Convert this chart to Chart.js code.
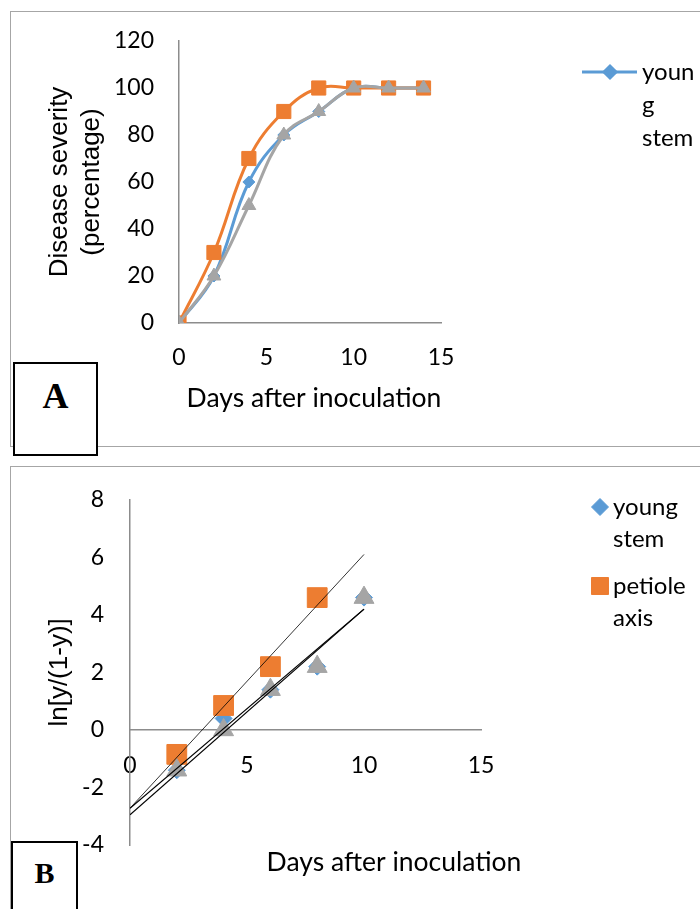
<!DOCTYPE html>
<html>
<head>
<meta charset="utf-8">
<script src="https://cdn.jsdelivr.net/npm/chart.js@4.4.1/dist/chart.umd.min.js"></script>
<style>
    body { margin: 0; background: #fff; }
    #page { position: relative; width: 700px; height: 909px; overflow: hidden; background: #fff; }
    .frame { position: absolute; border: 1px solid #a6a6a6; }
    .tag {
        position: absolute; box-sizing: border-box; border: 2px solid #000; background: #fff;
        font-family: "Liberation Serif", serif; font-weight: bold; text-align: center;
    }
    canvas { position: absolute; left: 0; }
</style>
</head>
<body>
<div id="page">
    <div class="frame" style="left:10px; top:11px; width:720px; height:434px;"></div>
    <div class="frame" style="left:10px; top:466px; width:720px; height:500px;"></div>
    <canvas id="chart-a" width="700" height="460" style="top:0;"></canvas>
    <canvas id="chart-b" width="700" height="449" style="top:460px;"></canvas>
    <div class="tag" style="left:13px; top:362px; width:85px; height:94px; font-size:36px; line-height:40px; padding-top:12px;">A</div>
    <div class="tag" style="left:11px; top:841px; width:67px; height:100px; font-size:30px; line-height:36px; padding-top:12px;">B</div>
</div>
<script>
// 색상 (Office 기본 팔레트)
const BLUE = '#5B9BD5';
const ORANGE = '#ED7D31';
const GREY = '#A5A5A5';
const AXIS_GREY = '#8c8c8c';

// A: 발병률 (%) - 접종 후 일수
const daysA = [0, 2, 4, 6, 8, 10, 12, 14];
const youngStemA = [0, 20, 60, 80, 90, 100, 100, 100];
const petioleAxisA = [0, 30, 70, 90, 100, 100, 100, 100];
const series3A = [0, 20, 50, 80, 90, 100, 100, 100];
const xTicksA = [0, 5, 10, 15];
const yTicksA = [0, 20, 40, 60, 80, 100, 120];

// B: ln[y/(1-y)] - 접종 후 일수
const daysB = [2, 4, 6, 8, 10];
const youngStemB = [-1.4, 0.4, 1.4, 2.2, 4.6];
const petioleDaysB = [2, 4, 6, 8];
const petioleAxisB = [-0.85, 0.85, 2.2, 4.6];
const series3B = [-1.4, 0, 1.4, 2.2, 4.6];
// 추세선 양 끝 (0일, 10일)
const trendDays = [0, 10];
const youngStemTrend = [-2.72, 4.2];
const petioleAxisTrend = [-2.72, 6.1];
const series3Trend = [-2.95, 4.2];
const xTicksB = [0, 5, 10, 15];
const yTicksB = [-4, -2, 0, 2, 4, 6, 8];

const X_TITLE = 'Days after inoculation';

const pts = (xs, ys) => xs.map((x, i) => ({ x: x, y: ys[i] }));
const setTicks = list => scale => { scale.ticks = list.map(v => ({ value: v })); };

const tickFont = { family: 'Lato', size: 23 };
const titleFont = { family: 'Lato', size: 26.5 };

/**
 * 오른쪽 범례(와 축 제목)를 직접 그리는 플러그인
 */
const sideLegend = {
    id: 'sideLegend',
    afterDraw(chart, args, opts) {
        const ctx = chart.ctx;
        ctx.save();
        (opts.items || []).forEach(item => {
            if (item.line) {
                ctx.strokeStyle = item.color;
                ctx.lineWidth = 3;
                ctx.beginPath();
                ctx.moveTo(item.line[0], item.y);
                ctx.lineTo(item.line[1], item.y);
                ctx.stroke();
            }
            ctx.fillStyle = item.color;
            ctx.strokeStyle = item.color;
            Chart.helpers.drawPoint(ctx, { pointStyle: item.style, radius: item.radius, borderWidth: 1 }, item.mx, item.y);
            ctx.fillStyle = '#000';
            ctx.font = '24px Lato';
            ctx.textBaseline = 'middle';
            ctx.textAlign = 'left';
            item.text.forEach((t, i) => ctx.fillText(t, item.tx, item.y + i * opts.gap));
        });
        (opts.captions || []).forEach(c => {
            ctx.fillStyle = '#000';
            ctx.font = c.font;
            ctx.textBaseline = 'middle';
            ctx.textAlign = 'center';
            ctx.fillText(c.text, c.x, c.y);
        });
        ctx.restore();
    }
};

// 차트 A
new Chart(document.getElementById('chart-a'), {
    type: 'scatter',
    data: {
        datasets: [
            { label: 'Series3', data: pts(daysA, series3A), borderColor: GREY, backgroundColor: GREY,
              pointStyle: 'triangle', pointRadius: 8, order: 1 },
            { label: 'petiole axis', data: pts(daysA, petioleAxisA), borderColor: ORANGE, backgroundColor: ORANGE,
              pointStyle: 'rect', pointRadius: 10, order: 2 },
            { label: 'young stem', data: pts(daysA, youngStemA), borderColor: BLUE, backgroundColor: BLUE,
              pointStyle: 'rectRot', pointRadius: 6, order: 3 }
        ].map(d => Object.assign(d, { showLine: true, tension: 0.4, borderWidth: 3, pointBorderWidth: 1 }))
    },
    options: {
        responsive: false,
        animation: false,
        devicePixelRatio: 1,
        layout: { padding: { left: 0, top: 41, right: 259, bottom: 37 } },
        plugins: {
            legend: { display: false },
            tooltip: { enabled: false },
            sideLegend: {
                gap: 33,
                items: [{ color: BLUE, style: 'rectRot', radius: 6, mx: 610, line: [582, 637], y: 72, tx: 642, text: ['youn', 'g', 'stem'] }],
                captions: [{ text: X_TITLE, x: 314, y: 398, font: '26.5px Lato' }]
            }
        },
        scales: {
            x: {
                type: 'linear', position: 'bottom', min: 0, max: 15,
                afterBuildTicks: setTicks(xTicksA),
                afterFit: s => { s.height = 100; },
                grid: { display: false, drawTicks: false },
                border: { display: true, color: AXIS_GREY, width: 1.5 },
                ticks: { padding: 21, font: tickFont, color: '#000', maxRotation: 0, autoSkip: false },
                title: { display: false }
            },
            y: {
                type: 'linear', position: 'left', min: 0, max: 120,
                afterBuildTicks: setTicks(yTicksA),
                afterFit: s => { s.width = 179; },
                grid: { display: false, drawTicks: false },
                border: { display: true, color: AXIS_GREY, width: 1.5 },
                ticks: { padding: 25, font: tickFont, color: '#000', autoSkip: false },
                title: { display: true, text: ['Disease severity', '(percentage)'], color: '#000',
                         font: { family: 'Liberation Sans', size: 26, lineHeight: 1.23 }, padding: { top: 44, bottom: 0 } }
            }
        }
    },
    plugins: [sideLegend]
});

// 차트 B
const trendStyle = { showLine: true, tension: 0, borderColor: '#000', pointRadius: 0, order: 0 };
new Chart(document.getElementById('chart-b'), {
    type: 'scatter',
    data: {
        datasets: [
            Object.assign({ label: 'petiole axis trend', data: pts(trendDays, petioleAxisTrend), borderWidth: 0.8 }, trendStyle),
            Object.assign({ label: 'young stem trend', data: pts(trendDays, youngStemTrend), borderWidth: 1.2 }, trendStyle),
            Object.assign({ label: 'Series3 trend', data: pts(trendDays, series3Trend), borderWidth: 1.2 }, trendStyle),
            { label: 'Series3', data: pts(daysB, series3B), borderColor: GREY, backgroundColor: GREY,
              pointStyle: 'triangle', pointRadius: 11.5, pointBorderWidth: 1, order: 1 },
            { label: 'petiole axis', data: pts(petioleDaysB, petioleAxisB), borderColor: ORANGE, backgroundColor: ORANGE,
              pointStyle: 'rect', pointRadius: 14, pointBorderWidth: 1, order: 2 },
            { label: 'young stem', data: pts(daysB, youngStemB), borderColor: BLUE, backgroundColor: BLUE,
              pointStyle: 'rectRot', pointRadius: 8.5, pointBorderWidth: 1, order: 3 }
        ]
    },
    options: {
        responsive: false,
        animation: false,
        devicePixelRatio: 1,
        layout: { padding: { left: 0, top: 37, right: 219, bottom: 64 } },
        plugins: {
            legend: { display: false },
            tooltip: { enabled: false },
            sideLegend: {
                gap: 32,
                items: [
                    { color: BLUE, style: 'rectRot', radius: 8.5, mx: 600, y: 47, tx: 613, text: ['young', 'stem'] },
                    { color: ORANGE, style: 'rect', radius: 12, mx: 600, y: 126, tx: 613, text: ['petiole', 'axis'] }
                ],
                captions: [{ text: X_TITLE, x: 394, y: 402, font: '26.5px Lato' }]
            }
        },
        scales: {
            x: {
                type: 'linear', position: { y: 0 }, min: 0, max: 15,
                afterBuildTicks: setTicks(xTicksB),
                grid: { display: false, drawTicks: false },
                border: { display: true, color: AXIS_GREY, width: 1.5 },
                ticks: { padding: 22, font: tickFont, color: '#000', maxRotation: 0, autoSkip: false },
                title: { display: false }
            },
            y: {
                type: 'linear', position: 'left', min: -4, max: 8,
                afterBuildTicks: setTicks(yTicksB),
                afterFit: s => { s.width = 130; },
                grid: { display: false, drawTicks: false },
                border: { display: true, color: AXIS_GREY, width: 1.5 },
                ticks: { padding: 26, font: tickFont, color: '#000', autoSkip: false },
                title: { display: true, text: 'ln[y/(1-y)]', color: '#000',
                         font: { family: 'Liberation Sans', size: 26, lineHeight: 1.2 }, padding: { top: 44, bottom: 0 } }
            }
        }
    },
    plugins: [sideLegend]
});
</script>
</body>
</html>
